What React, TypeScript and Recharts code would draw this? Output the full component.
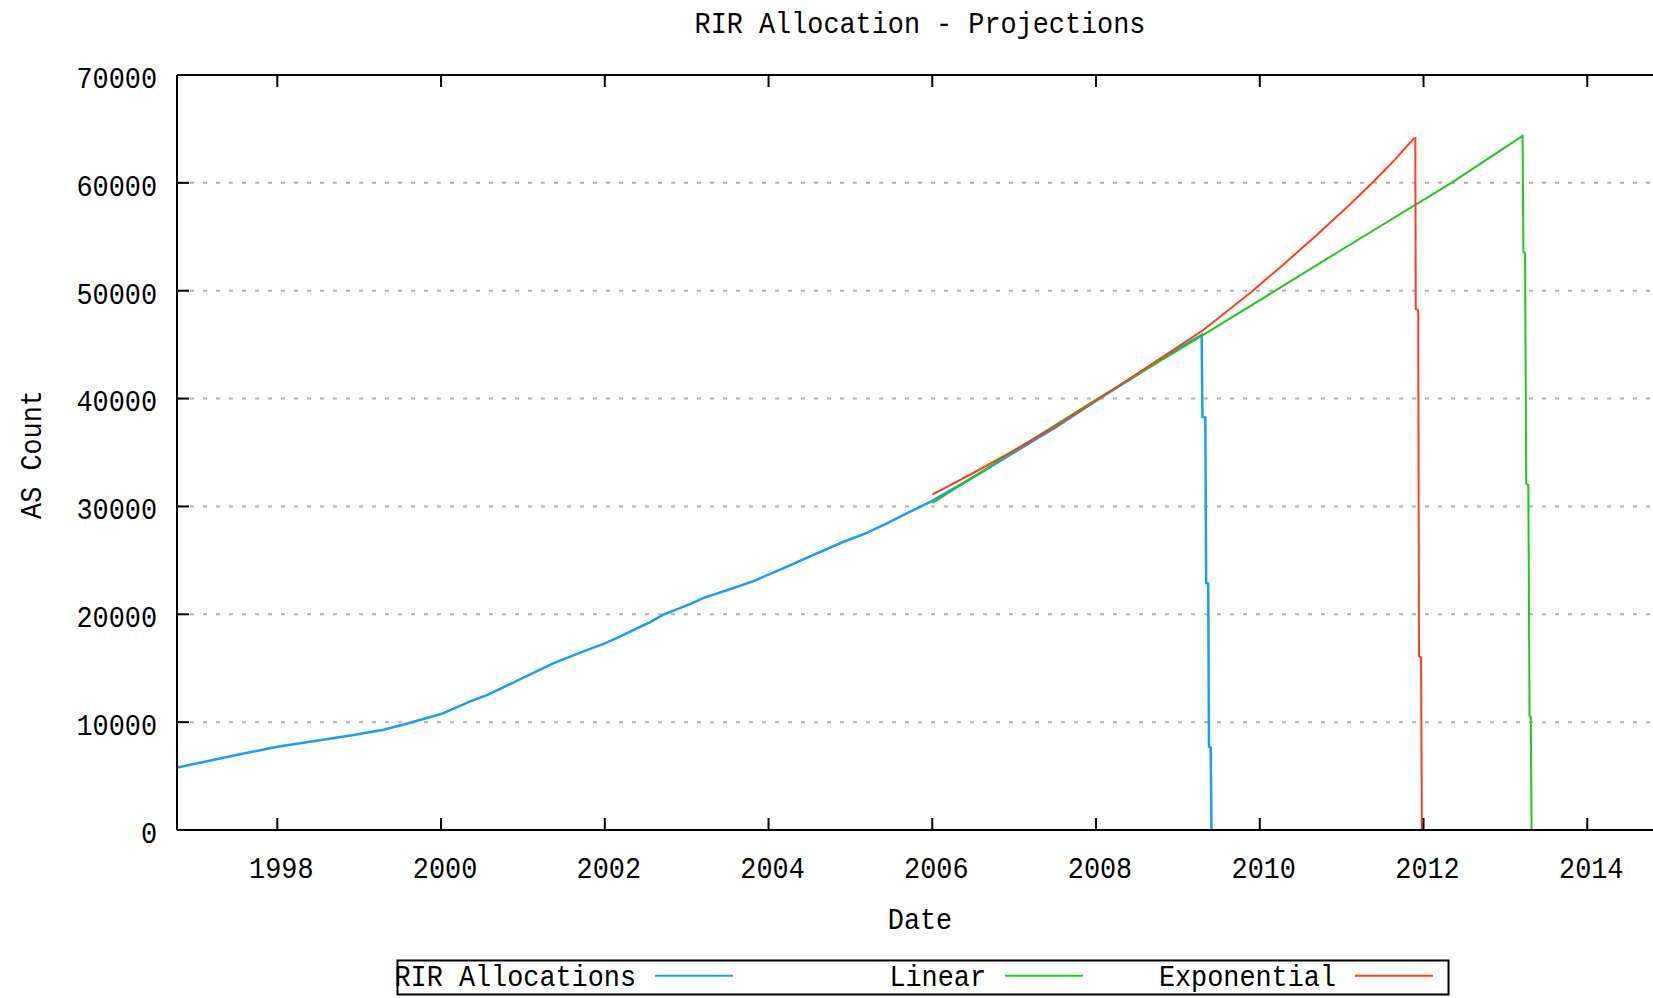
import React from 'react';
import { LineChart, Line, XAxis, YAxis, CartesianGrid, Legend, Label } from 'recharts';

// ---------- data ----------
const xTicks = [1998, 2000, 2002, 2004, 2006, 2008, 2010, 2012, 2014];
const yTicks = [0, 10000, 20000, 30000, 40000, 50000, 60000, 70000];
const X_DOMAIN: [number, number] = [1996.775, 2014.925];
const Y_DOMAIN: [number, number] = [0, 70000];

const rirYears = [
  1996.78, 1997.1, 1997.5, 1998.0, 1998.5, 1998.93, 1999.3, 1999.58, 1999.74, 2000.0,
  2000.35, 2000.56, 2000.76, 2001.0, 2001.37, 2001.7, 2002.0, 2002.19, 2002.45, 2002.55,
  2002.71, 2003.04, 2003.2, 2003.5, 2003.81, 2004.22, 2004.5, 2004.91, 2005.2, 2005.44,
  2005.7, 2005.97, 2006.5, 2007.0, 2007.5, 2008.0, 2008.5, 2009.0, 2009.29, 2009.3,
  2009.335, 2009.345, 2009.37, 2009.38, 2009.4, 2009.41,
];
const rirCounts = [
  5800, 6300, 6950, 7720, 8300, 8810, 9300, 9850, 10200, 10750,
  11900, 12500, 13230, 14100, 15450, 16450, 17300, 17950, 18900, 19250,
  19950, 20950, 21500, 22250, 23050, 24400, 25350, 26700, 27550, 28400,
  29400, 30400, 32700, 35000, 37300, 39800, 42200, 44600, 45900, 38300,
  38250, 22900, 22850, 7700, 7650, 0,
];

const linearYears = [
  2006.0, 2007.0, 2008.0, 2009.31, 2010.19, 2011.0, 2012.34, 2013.21, 2013.22, 2013.24,
  2013.255, 2013.28, 2013.295, 2013.31, 2013.32,
];
const linearCounts = [
  30300, 35150, 39900, 45900, 50000, 53800, 60000, 64350, 53600, 53500,
  32100, 32000, 10600, 10500, 0,
];

const expYears = [
  2006.0, 2006.5, 2007.0, 2007.5, 2008.0, 2008.5, 2009.0, 2009.31, 2009.9, 2010.3,
  2010.7, 2011.1, 2011.4, 2011.65, 2011.88, 2011.9, 2011.905, 2011.935, 2011.945, 2011.97,
  2011.98,
];
const expCounts = [
  31100, 33100, 35200, 37400, 39800, 42300, 44800, 46360, 49910, 52500,
  55200, 58000, 60200, 62150, 64100, 64150, 48300, 48200, 16100, 16000,
  0,
];

const seriesNames = ['RIR Allocations', 'Linear', 'Exponential'];
const seriesColors = ['#1a9cff', '#1ec81e', '#ff3c1e'];

const toRows = (xs: number[], ys: number[]) => xs.map((x, i) => ({ x, y: ys[i] }));
const rirData = toRows(rirYears, rirCounts);
const linearData = toRows(linearYears, linearCounts);
const expData = toRows(expYears, expCounts);

// ---------- style ----------
const FONT = '"Liberation Mono", "DejaVu Sans Mono", monospace';
const FS = 30;
const CW = 16.1;

const T = (props: any) => {
  const { children, ...rest } = props;
  const s = String(children);
  return (
    <text
      fontFamily={FONT}
      fontSize={FS}
      fill="#000"
      textLength={s.length * CW}
      lengthAdjust="spacingAndGlyphs"
      {...rest}
    >
      {s}
    </text>
  );
};

const BottomTick = (props: any) => {
  const { x, y, payload } = props;
  return (
    <g>
      <line x1={x} x2={x} y1={y} y2={y - 12} stroke="#000" strokeWidth={2} />
      <T x={x + 4} y={y + 48} textAnchor="middle">{payload.value}</T>
    </g>
  );
};

const TopTick = (props: any) => {
  const { x, y } = props;
  return <line x1={x} x2={x} y1={y} y2={y + 12} stroke="#000" strokeWidth={2} />;
};

const LeftTick = (props: any) => {
  const { x, y, payload } = props;
  return (
    <g>
      <line x1={x} x2={x + 12} y1={y} y2={y} stroke="#000" strokeWidth={2} />
      <T x={x - 20} y={y + 2} dy="0.36em" textAnchor="end">{payload.value}</T>
    </g>
  );
};

const renderTitle = (props: any) => {
  const vb = props.viewBox || { x: 177, width: 1486 };
  return <T x={vb.x + vb.width / 2} y={33} textAnchor="middle">RIR Allocation - Projections</T>;
};

const renderXLabel = (props: any) => {
  const vb = props.viewBox || { x: 177, y: 830, width: 1486 };
  return <T x={vb.x + vb.width / 2} y={vb.y + 99} textAnchor="middle">Date</T>;
};

const renderYLabel = (props: any) => {
  const vb = props.viewBox || { y: 75, height: 755 };
  const cx = 41;
  const cy = vb.y + vb.height / 2 + 2;
  return (
    <T x={cx} y={cy} textAnchor="middle" transform={`rotate(-90 ${cx} ${cy})`}>AS Count</T>
  );
};

const renderLegend = (props: any) => {
  const payload = props.payload || [];
  return (
    <svg width={1054} height={38} style={{ display: 'block', overflow: 'visible' }}>
      <rect x={1.5} y={1.5} width={1051} height={34} fill="#fff" stroke="#000" strokeWidth={2} />
      {payload.map((entry: any, k: number) => {
        const idx = seriesNames.indexOf(entry.value);
        const i = idx >= 0 ? idx : k;
        const ls = 259 + 350 * i;
        return (
          <g key={k}>
            <T x={ls - 19} y={27} textAnchor="end">{entry.value}</T>
            <line x1={ls} x2={ls + 78} y1={16.7} y2={16.7} stroke={entry.color} strokeWidth={2} />
          </g>
        );
      })}
    </svg>
  );
};

export default function App() {
  return (
    <div
      style={{
        position: 'absolute',
        left: 0,
        top: 0,
        width: 1653,
        height: 998,
        overflow: 'hidden',
        background: '#fff',
      }}
    >
      <LineChart width={1700} height={998} margin={{ top: 55, right: 37, bottom: 108, left: 0 }}>
        <CartesianGrid vertical={false} stroke="#b0b0b0" strokeWidth={2} strokeDasharray="4 9" />
        <XAxis
          xAxisId={0}
          type="number"
          dataKey="x"
          domain={X_DOMAIN}
          allowDataOverflow
          ticks={xTicks}
          interval={0}
          height={60}
          tickLine={false}
          tickSize={0}
          tickMargin={0}
          tick={(p: any) => <BottomTick {...p} />}
          axisLine={{ stroke: '#000', strokeWidth: 2 }}
        >
          <Label content={renderXLabel} />
        </XAxis>
        <XAxis
          xAxisId="top"
          orientation="top"
          type="number"
          dataKey="x"
          domain={X_DOMAIN}
          allowDataOverflow
          ticks={xTicks}
          interval={0}
          height={20}
          tickLine={false}
          tickSize={0}
          tickMargin={0}
          tick={(p: any) => <TopTick {...p} />}
          axisLine={{ stroke: '#000', strokeWidth: 2 }}
        >
          <Label content={renderTitle} />
        </XAxis>
        <YAxis
          type="number"
          domain={Y_DOMAIN}
          allowDataOverflow
          ticks={yTicks}
          interval={0}
          width={177}
          tickLine={false}
          tickSize={0}
          tickMargin={0}
          tick={(p: any) => <LeftTick {...p} />}
          axisLine={{ stroke: '#000', strokeWidth: 2 }}
        >
          <Label content={renderYLabel} />
        </YAxis>
        <Line
          data={rirData}
          dataKey="y"
          name={seriesNames[0]}
          stroke={seriesColors[0]}
          strokeWidth={2.5}
          dot={false}
          activeDot={false}
          type="linear"
          isAnimationActive={false}
          legendType="line"
        />
        <Line
          data={linearData}
          dataKey="y"
          name={seriesNames[1]}
          stroke={seriesColors[1]}
          strokeWidth={2}
          dot={false}
          activeDot={false}
          type="linear"
          isAnimationActive={false}
          legendType="line"
        />
        <Line
          data={expData}
          dataKey="y"
          name={seriesNames[2]}
          stroke={seriesColors[2]}
          strokeWidth={2}
          dot={false}
          activeDot={false}
          type="linear"
          isAnimationActive={false}
          legendType="line"
        />
        <Legend
          layout="horizontal"
          verticalAlign="middle"
          align="center"
          content={renderLegend}
          wrapperStyle={{ position: 'absolute', left: 396, top: 959, width: 1054, height: 38 }}
        />
      </LineChart>
    </div>
  );
}
